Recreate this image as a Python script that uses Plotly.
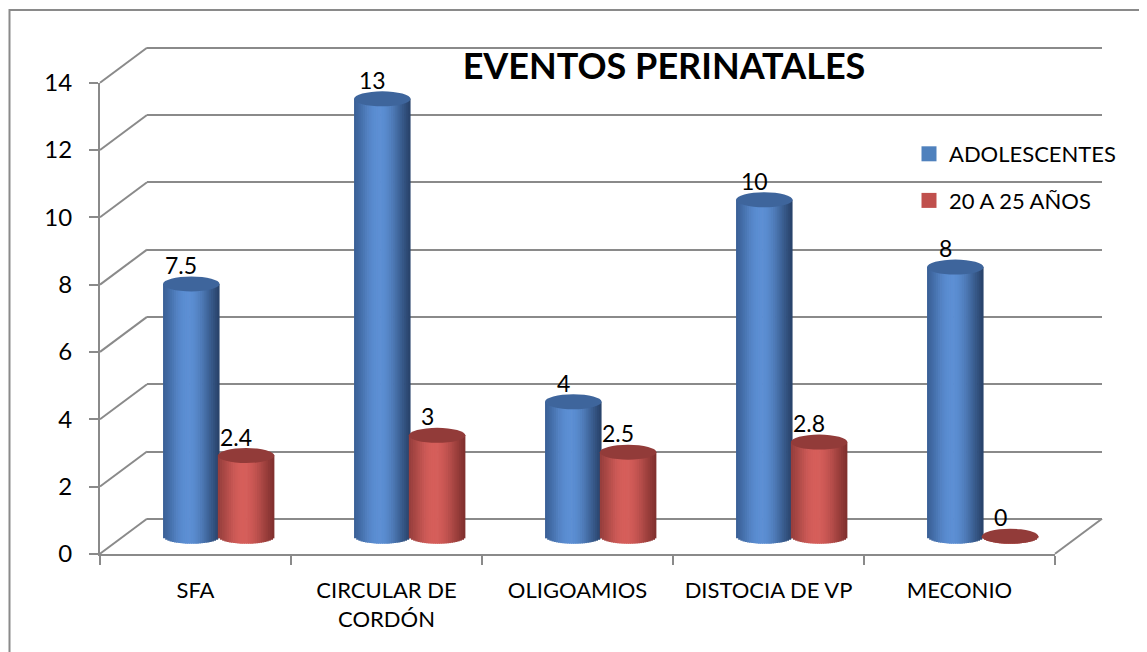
import numpy as np
import plotly.graph_objects as go

# ---------------- data ----------------
categories = ["SFA", "CIRCULAR DE CORDÓN", "OLIGOAMIOS", "DISTOCIA DE VP", "MECONIO"]
tick_labels = ["SFA", "CIRCULAR DE<br>CORDÓN", "OLIGOAMIOS", "DISTOCIA DE VP", "MECONIO"]
adolescentes = [7.5, 13, 4, 10, 8]
de_20_a_25 = [2.4, 3, 2.5, 2.8, 0]
series_names = ["ADOLESCENTES", "20 A 25 AÑOS"]
y_ticks = [0, 2, 4, 6, 8, 10, 12, 14]
chart_title = "EVENTOS PERINATALES"

# ---------------- layout / style constants ----------------
PAGE_OFF = 8                          # default body margin of the html page
W, H = 1147 - PAGE_OFF, 652 - PAGE_OFF
FONT = "Lato, 'Open Sans', sans-serif"
GRID = "#8a8a8a"
FRONT_L, FRONT_R = 100, 1055          # px (screen) of front floor edge
FRONT_Y0 = 553.8                      # px (screen) of value 0 on front plane
K = 33.65                             # px per unit
DX, DY = 47, 35                       # depth offset of back wall (px)
Y_MAX = y_ticks[-1]

BAR_W = 0.296                         # in category units
BAR_C = [-0.145, 0.142]               # centre offsets of each series
E = 7.5 / K                           # ellipse half-height (data units)
N_STRIPS = 26

BODY = [
    ((58, 96, 150), (92, 143, 212), (40, 66, 106)),    # blue: left, highlight, right
    ((150, 62, 60), (214, 94, 90), (128, 48, 46)),     # red
]
CAP = ["rgb(62,101,156)", "rgb(146,59,57)"]
LEGEND_COL = ["#4F81BD", "#C0504D"]


def pxx(p):
    return (p - PAGE_OFF) / W


def pyy(p):
    return (H - (p - PAGE_OFF)) / H


def mix(a, b, t):
    return "rgb(%d,%d,%d)" % tuple(round(a[i] + (b[i] - a[i]) * t) for i in range(3))


def shade(cols, u, u0=-0.12):
    left, light, right = cols
    if u < u0:
        t = (u + 1) / (u0 + 1)
        base = left
    else:
        t = (1 - u) / (1 - u0)
        base = right
    t = np.sin(np.clip(t, 0, 1) * np.pi / 2) ** 1.3
    return mix(base, light, t)


n = len(categories)
pos = np.arange(n)
series = [adolescentes, de_20_a_25]

fig = go.Figure()

# anchor traces so the front and back-wall subplots are created
fig.add_trace(go.Scatter(x=[None], y=[None], xaxis="x", yaxis="y",
                         showlegend=False, hoverinfo="skip"))
fig.add_trace(go.Scatter(x=[None], y=[None], xaxis="x2", yaxis="y2",
                         showlegend=False, hoverinfo="skip"))

# cylinders (bars axis x3/y3, placed at mid depth)
strip_w = BAR_W / N_STRIPS
for s, vals in enumerate(series):
    vals = np.array(vals, dtype=float)
    for j in range(N_STRIPS):
        u = -1 + (2 * j + 1) / N_STRIPS
        curve = E * np.sqrt(max(0.0, 1 - u * u))
        fig.add_trace(go.Bar(
            x=pos, y=vals + curve, base=[-curve] * n,
            offset=BAR_C[s] - BAR_W / 2 + j * strip_w,
            width=strip_w * 1.35 if j < N_STRIPS - 1 else strip_w,
            marker=dict(color=shade(BODY[s], u), line=dict(width=0)),
            xaxis="x3", yaxis="y3", showlegend=False, hoverinfo="skip",
        ))

# legend entries
for s, name in enumerate(series_names):
    fig.add_trace(go.Scatter(
        x=[None], y=[None], mode="markers", name=name,
        marker=dict(symbol="square", size=15, color=LEGEND_COL[s]),
        xaxis="x3", yaxis="y3", legendgroup=name, hoverinfo="skip",
    ))

shapes = []
annotations = []
# caps and labels
for s, vals in enumerate(series):
    for i, v in enumerate(vals):
        x0 = pos[i] + BAR_C[s] - BAR_W / 2
        shapes.append(dict(type="circle", xref="x3", yref="y3",
                           x0=x0, x1=x0 + BAR_W, y0=v - E, y1=v + E,
                           fillcolor=CAP[s], line=dict(width=0), layer="above"))
        annotations.append(dict(x=pos[i] + BAR_C[s], y=v, xref="x3", yref="y3",
                                text=f"{v:g}", showarrow=False, yshift=19, xshift=-10,
                                font=dict(family=FONT, size=23, color="black")))

# side-wall diagonals
for v in y_ticks:
    yf = FRONT_Y0 - K * v
    shapes.append(dict(type="line", xref="paper", yref="paper",
                       x0=pxx(FRONT_L), y0=pyy(yf), x1=pxx(FRONT_L + DX), y1=pyy(yf - DY),
                       line=dict(color=GRID, width=2), layer="below"))
# right floor diagonal
shapes.append(dict(type="line", xref="paper", yref="paper",
                   x0=pxx(FRONT_R), y0=pyy(FRONT_Y0), x1=pxx(FRONT_R + DX), y1=pyy(FRONT_Y0 - DY),
                   line=dict(color=GRID, width=2), layer="below"))
# outer chart border (top + left visible)
shapes.append(dict(type="rect", xref="paper", yref="paper",
                   x0=pxx(9.5), x1=1.02, y0=-0.05, y1=pyy(10),
                   line=dict(color=GRID, width=2), fillcolor="rgba(0,0,0,0)", layer="below"))

boundaries = list(np.arange(n + 1) - 0.5)

fig.update_layout(
    width=W, height=H, autosize=False,
    margin=dict(l=0, r=0, t=0, b=0, pad=0, autoexpand=False),
    paper_bgcolor="white", plot_bgcolor="rgba(0,0,0,0)",
    barmode="overlay",
    font=dict(family=FONT, size=24, color="black"),
    title=dict(text=f"<b>{chart_title}</b>", x=pxx(664), y=pyy(66),
               xanchor="center", yanchor="middle", xref="paper", yref="paper",
               font=dict(family=FONT, size=36, color="black")),
    showlegend=True,
    legend=dict(x=pxx(909), y=pyy(133), xanchor="left", yanchor="top",
                font=dict(family=FONT, size=22, color="black"),
                bgcolor="rgba(0,0,0,0)", itemwidth=30, tracegroupgap=15,
                traceorder="grouped"),
    # front plane: axes with ticks and labels
    xaxis=dict(domain=[pxx(FRONT_L), pxx(FRONT_R)], range=[-0.5, n - 0.5],
               tickmode="array", tickvals=list(pos), ticktext=tick_labels,
               ticks="", showgrid=False, zeroline=False, automargin=False,
               showline=True, linecolor=GRID, linewidth=2,
               ticklabelstandoff=16,
               minor=dict(tickmode="array", tickvals=boundaries, ticks="outside",
                          ticklen=9, tickwidth=2, tickcolor=GRID, showgrid=False),
               tickfont=dict(family=FONT, size=22, color="black"), anchor="y", fixedrange=True),
    yaxis=dict(domain=[pyy(FRONT_Y0), pyy(FRONT_Y0 - K * Y_MAX)], range=[0, Y_MAX],
               tickmode="array", tickvals=y_ticks, ticks="outside", ticklen=9,
               tickwidth=2, tickcolor=GRID, showline=True, linecolor=GRID, linewidth=2,
               showgrid=False, zeroline=False, ticklabelstandoff=12, automargin=False,
               tickfont=dict(family=FONT, size=24, color="black"), anchor="x", fixedrange=True),
    # back wall (gridlines)
    xaxis2=dict(domain=[pxx(FRONT_L + DX), pxx(FRONT_R + DX)], range=[0, 1],
                visible=False, anchor="y2", automargin=False),
    yaxis2=dict(domain=[pyy(FRONT_Y0 - DY + 0.1 * K), pyy(FRONT_Y0 - DY - (Y_MAX + 0.1) * K)],
                range=[-0.1, Y_MAX + 0.1], tickmode="array", tickvals=y_ticks,
                showticklabels=False, ticks="", showline=False, zeroline=False,
                showgrid=True, gridcolor=GRID, gridwidth=2, anchor="x2", automargin=False),
    # bars at mid depth
    xaxis3=dict(domain=[pxx(FRONT_L + DX / 2), pxx(FRONT_R + DX / 2)], range=[-0.5, n - 0.5],
                visible=False, anchor="y3", automargin=False),
    yaxis3=dict(domain=[pyy(FRONT_Y0 - DY / 2 + 1 * K), pyy(FRONT_Y0 - DY / 2 - (Y_MAX + 1) * K)],
                range=[-1, Y_MAX + 1], visible=False, anchor="x3", automargin=False),
    shapes=shapes,
    annotations=annotations,
)

fig.write_html("out.html")
